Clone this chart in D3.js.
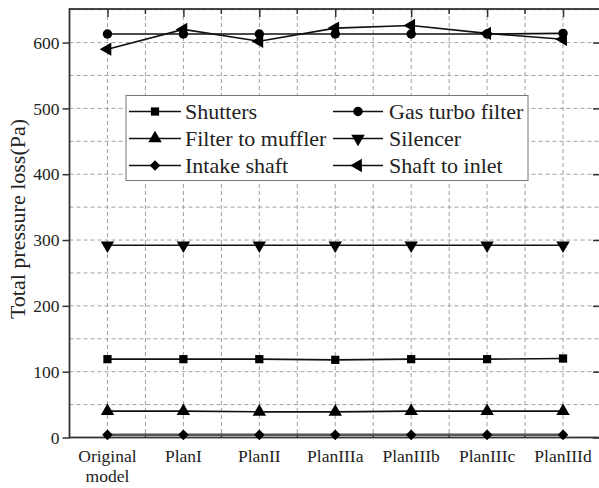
<!DOCTYPE html>
<html>
<head>
<meta charset="utf-8">
<script src="https://cdn.jsdelivr.net/npm/d3@7"></script>
<style>
  html, body { margin: 0; padding: 0; background: #fff; }
  svg { display: block; }
  text { font-family: "Liberation Serif", "Times New Roman", serif; fill: #222; }
</style>
</head>
<body>
<svg id="chart" width="599" height="488"></svg>
<script>
// Cases compared along the x axis
const categories = ["Original model", "PlanI", "PlanII", "PlanIIIa", "PlanIIIb", "PlanIIIc", "PlanIIId"];

// Total pressure loss (Pa) of each section
const shutters        = [119, 119, 119, 118, 119, 119, 120];
const gasTurboFilter  = [613, 613, 613, 613, 613, 613, 614];
const filterToMuffler = [40, 40, 39, 39, 40, 40, 40];
const silencer        = [292, 292, 292, 292, 292, 292, 292];
const intakeShaft     = [4, 4, 4, 4, 4, 4, 4];
const shaftToInlet    = [590, 620, 602, 622, 626, 614, 605];

const yTicks = [0, 100, 200, 300, 400, 500, 600];
const yGrid  = [50, 100, 150, 200, 250, 300, 350, 400, 450, 500, 550, 600, 650];

const series = [
  { name: "Shutters",          values: shutters,        marker: "square" },
  { name: "Gas turbo filter",  values: gasTurboFilter,  marker: "circle" },
  { name: "Filter to muffler", values: filterToMuffler, marker: "up" },
  { name: "Silencer",          values: silencer,        marker: "down" },
  { name: "Intake shaft",      values: intakeShaft,     marker: "diamond" },
  { name: "Shaft to inlet",    values: shaftToInlet,    marker: "left" }
];

const serif = "'Liberation Serif', 'Times New Roman', serif";
const svg = d3.select("#chart");
const plot = { left: 69.5, right: 601, top: 9, bottom: 437.5 };

const x = d3.scalePoint().domain(categories).range([plot.left, plot.right]).padding(0.5);
const y = d3.scaleLinear().domain([0, 651]).range([plot.bottom, plot.top]);

// Midpoints between categories for the minor grid
const cx = categories.map(c => x(c));
const mids = [];
for (let i = 0; i < cx.length; i++) {
  mids.push(cx[i] - x.step() / 2);
  mids.push(cx[i] + x.step() / 2);
}
const innerMids = Array.from(new Set(mids.map(v => +v.toFixed(2)))).filter(v => v > plot.left + 1 && v < plot.right - 1);
const vGrid = cx.concat(innerMids);

// Dashed grid
const grid = svg.append("g").attr("stroke", "#a0a0a0").attr("stroke-width", 1).attr("stroke-dasharray", "4,3").attr("fill", "none");
grid.selectAll("line.v").data(vGrid).join("line").attr("class", "v")
  .attr("x1", d => d).attr("x2", d => d).attr("y1", plot.top).attr("y2", plot.bottom);
grid.selectAll("line.h").data(yGrid).join("line").attr("class", "h")
  .attr("x1", plot.left).attr("x2", plot.right).attr("y1", d => y(d)).attr("y2", d => y(d));

// Axes
const axisColor = "#333";
const leftAxis = svg.append("g").attr("transform", `translate(${plot.left},0)`)
  .call(d3.axisLeft(y).tickValues(yTicks).tickSize(7).tickPadding(3));
const rightAxis = svg.append("g").attr("transform", `translate(${plot.right},0)`)
  .call(d3.axisRight(y).tickValues(yTicks).tickSize(-8).tickFormat(""));
const bottomAxis = svg.append("g").attr("transform", `translate(0,${plot.bottom})`)
  .call(d3.axisBottom(x).tickSize(-6).tickFormat(""));
const topAxis = svg.append("g").attr("transform", `translate(0,${plot.top})`)
  .call(d3.axisTop(x).tickSize(-8).tickFormat(""));

// Minor ticks on the top and bottom frame
svg.append("g").selectAll("line").data(innerMids).join("line")
  .attr("x1", d => d).attr("x2", d => d).attr("y1", plot.top).attr("y2", plot.top + 5)
  .attr("stroke", axisColor).attr("stroke-width", 1.5);
svg.append("g").selectAll("line").data(innerMids).join("line")
  .attr("x1", d => d).attr("x2", d => d).attr("y1", plot.bottom).attr("y2", plot.bottom - 4)
  .attr("stroke", axisColor).attr("stroke-width", 1.5);

[leftAxis, rightAxis, bottomAxis, topAxis].forEach(g => {
  g.select(".domain").remove();
  g.selectAll(".tick line").attr("stroke", axisColor).attr("stroke-width", 1.5);
});
svg.append("rect").attr("x", plot.left).attr("y", plot.top)
  .attr("width", plot.right - plot.left).attr("height", plot.bottom - plot.top)
  .attr("fill", "none").attr("stroke", axisColor).attr("stroke-width", 1.8);

leftAxis.selectAll(".tick text").style("font-family", serif).style("font-size", "17.5px").attr("fill", "#222");

// Category labels (two lines where needed)
const xl = svg.append("g");
categories.forEach(c => {
  const words = c.split(" ");
  const t = xl.append("text").attr("x", x(c)).attr("y", 462).attr("text-anchor", "middle")
    .style("font-family", serif).style("font-size", "17.5px");
  words.forEach((w, i) => t.append("tspan").attr("x", x(c)).attr("dy", i === 0 ? 0 : 20).text(w));
});

// Y axis title
svg.append("text").attr("transform", "translate(25,219) rotate(-90)")
  .attr("text-anchor", "middle").style("font-family", serif).style("font-size", "22px")
  .text("Total pressure loss(Pa)");

// Marker drawing
function markerPath(kind) {
  switch (kind) {
    case "square":  return d3.symbol(d3.symbolSquare, 68)();
    case "circle":  return d3.symbol(d3.symbolCircle, 70)();
    case "diamond": return d3.symbol(d3.symbolSquare, 56)();
    default:        return d3.symbol(d3.symbolTriangle, 78)();
  }
}
function markerRotation(kind) {
  return { down: 180, left: -90, diamond: 45 }[kind] || 0;
}

const line = d3.line().x((d, i) => x(categories[i])).y(d => y(d));
const dataLayer = svg.append("g");
series.forEach(s => {
  dataLayer.append("path").datum(s.values).attr("d", line)
    .attr("fill", "none").attr("stroke", s.marker === "diamond" ? "#555" : "#111").attr("stroke-width", s.marker === "diamond" ? 2.5 : 1.6);
});
series.forEach(s => {
  dataLayer.append("g").selectAll("path").data(s.values).join("path")
    .attr("d", markerPath(s.marker))
    .attr("transform", (d, i) => `translate(${x(categories[i])},${y(d)}) rotate(${markerRotation(s.marker)})`)
    .attr("fill", "#000");
});

// Legend
const legend = svg.append("g");
legend.append("rect").attr("x", 126).attr("y", 95.5).attr("width", 402).attr("height", 85)
  .attr("fill", "#fff").attr("stroke", "#777").attr("stroke-width", 1);
const colX = [{ l1: 129, l2: 181, tx: 185 }, { l1: 333, l2: 383, tx: 389 }];
const rowY = [111.5, 138.5, 165.5];
const legendOrder = [
  [series[0], 0, 0], [series[2], 0, 1], [series[4], 0, 2],
  [series[1], 1, 0], [series[3], 1, 1], [series[5], 1, 2]
];
legendOrder.forEach(([s, c, r]) => {
  const col = colX[c], yy = rowY[r];
  legend.append("line").attr("x1", col.l1).attr("x2", col.l2).attr("y1", yy).attr("y2", yy)
    .attr("stroke", "#111").attr("stroke-width", 1.6);
  legend.append("path").attr("d", markerPath(s.marker))
    .attr("transform", `translate(${(col.l1 + col.l2) / 2},${yy}) rotate(${markerRotation(s.marker)})`)
    .attr("fill", "#000");
  legend.append("text").attr("x", col.tx).attr("y", yy).attr("dy", "0.35em")
    .style("font-family", serif).style("font-size", "22px").text(s.name);
});
</script>
</body>
</html>
